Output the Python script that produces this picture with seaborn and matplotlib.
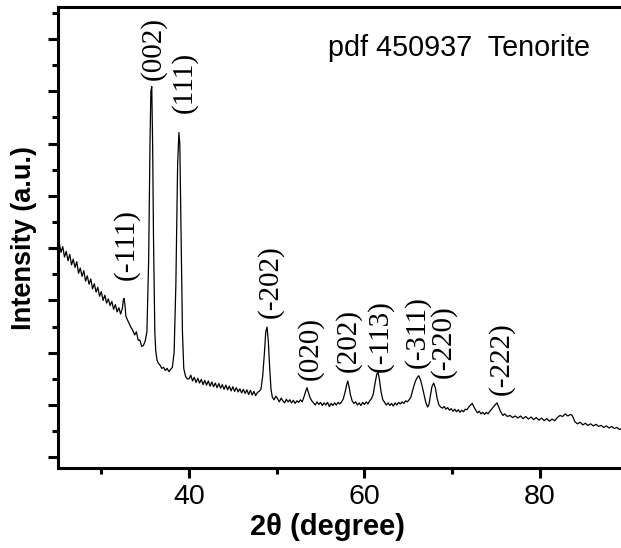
import numpy as np
import pandas as pd
import matplotlib
matplotlib.use('Agg')
import matplotlib.pyplot as plt
import seaborn as sns
from matplotlib.ticker import MultipleLocator

# XRD pattern (2theta in degrees, intensity in arbitrary units)
two_theta = [
    25.0, 25.2, 25.4, 25.6, 25.8, 26.0, 26.2, 26.4, 26.6, 26.8,
    27.0, 27.2, 27.4, 27.6, 27.8, 28.0, 28.2, 28.4, 28.6, 28.8,
    29.0, 29.2, 29.4, 29.6, 29.8, 30.0, 30.2, 30.4, 30.6, 30.8,
    31.0, 31.2, 31.4, 31.6, 31.8, 32.0, 32.2, 32.4, 32.5, 32.6,
    32.7, 32.8, 33.0, 33.2, 33.4, 33.6, 33.8, 34.0, 34.2, 34.4,
    34.6, 34.8, 35.0, 35.2, 35.4, 35.55, 35.65, 35.75, 35.85, 35.95,
    36.1, 36.2, 36.35, 36.5, 36.7, 36.9, 37.1, 37.3, 37.5, 37.7,
    37.9, 38.1, 38.3, 38.5, 38.7, 38.85, 38.95, 39.1, 39.25, 39.4,
    39.6, 39.8, 40.0, 40.2, 40.4, 40.6, 40.8, 41.0, 41.2, 41.4,
    41.6, 41.8, 42.0, 42.2, 42.4, 42.6, 42.8, 43.0, 43.2, 43.4,
    43.6, 43.8, 44.0, 44.2, 44.4, 44.6, 44.8, 45.0, 45.2, 45.4,
    45.6, 45.8, 46.0, 46.2, 46.4, 46.6, 46.8, 47.0, 47.2, 47.4,
    47.6, 47.8, 48.0, 48.2, 48.4, 48.6, 48.75, 48.9, 49.05, 49.2,
    49.35, 49.5, 49.7, 49.9, 50.1, 50.3, 50.5, 50.7, 50.9, 51.1,
    51.3, 51.5, 51.7, 51.9, 52.1, 52.3, 52.5, 52.7, 52.9, 53.1,
    53.3, 53.45, 53.6, 53.8, 54.0, 54.2, 54.4, 54.6, 54.8, 55.0,
    55.2, 55.4, 55.6, 55.8, 56.0, 56.2, 56.4, 56.6, 56.8, 57.0,
    57.2, 57.4, 57.6, 57.8, 58.0, 58.1, 58.25, 58.4, 58.6, 58.8,
    59.0, 59.2, 59.4, 59.6, 59.8, 60.0, 60.2, 60.4, 60.6, 60.8,
    61.0, 61.2, 61.4, 61.55, 61.7, 61.9, 62.1, 62.3, 62.5, 62.7,
    62.9, 63.1, 63.3, 63.5, 63.7, 63.9, 64.1, 64.3, 64.5, 64.7,
    64.9, 65.1, 65.3, 65.5, 65.8, 66.0, 66.2, 66.4, 66.6, 66.8,
    67.0, 67.2, 67.35, 67.5, 67.7, 67.9, 68.1, 68.3, 68.5, 68.7,
    68.9, 69.1, 69.3, 69.5, 69.7, 69.9, 70.1, 70.3, 70.5, 70.7,
    70.9, 71.1, 71.3, 71.5, 71.7, 71.9, 72.1, 72.3, 72.5, 72.7,
    72.9, 73.1, 73.3, 73.5, 73.7, 73.9, 74.1, 74.3, 74.5, 74.8,
    75.1, 75.3, 75.5, 75.8, 76.0, 76.3, 76.6, 76.9, 77.2, 77.5,
    77.8, 78.1, 78.4, 78.7, 79.0, 79.3, 79.6, 79.9, 80.2, 80.5,
    80.8, 81.1, 81.4, 81.7, 82.0, 82.3, 82.6, 82.9, 83.2, 83.5,
    83.7, 84.0, 84.3, 84.6, 84.9, 85.2, 85.5, 85.8, 86.1, 86.4,
    86.7, 87.0, 87.3, 87.6, 87.9, 88.2, 88.5, 88.8, 89.1, 89.4,
]
intensity = [
    400, 410, 392, 403, 383, 394, 376, 388, 368, 379,
    363, 374, 352, 362, 346, 357, 337, 347, 331, 341,
    322, 332, 316, 325, 308, 317, 300, 310, 295, 303,
    290, 298, 283, 292, 278, 286, 274, 285, 300, 304,
    290, 270, 262, 255, 248, 242, 234, 240, 224, 224,
    212, 214, 222, 240, 380, 600, 700, 709, 600, 420,
    240, 205, 186, 180, 176, 170, 172, 166, 170, 164,
    168, 172, 200, 330, 560, 621, 600, 420, 240, 170,
    155, 150, 150, 157, 146, 153, 143, 151, 142, 149,
    139, 147, 138, 146, 136, 144, 135, 142, 133, 141,
    132, 139, 130, 138, 129, 136, 127, 135, 126, 133,
    125, 131, 123, 130, 122, 129, 120, 128, 119, 126,
    118, 124, 126, 130, 155, 200, 240, 249, 220, 170,
    130, 115, 110, 117, 112, 106, 113, 108, 104, 111,
    106, 110, 104, 109, 103, 108, 105, 110, 106, 115,
    126, 133, 125, 114, 108, 104, 100, 106, 101, 105,
    99, 104, 100, 105, 97, 103, 99, 104, 100, 105,
    102, 106, 112, 125, 140, 146, 135, 120, 108, 103,
    106, 100, 104, 99, 105, 101, 106, 102, 108, 112,
    120, 140, 158, 163, 150, 125, 110, 105, 100, 104,
    99, 103, 98, 104, 100, 105, 102, 106, 103, 108,
    106, 110, 115, 128, 145, 152, 156, 148, 135, 120,
    105, 96, 100, 115, 135, 142, 132, 112, 100, 96,
    94, 97, 92, 95, 90, 93, 88, 92, 87, 91,
    86, 90, 87, 92, 91, 96, 100, 103, 96, 90,
    85, 88, 83, 86, 82, 86, 83, 88, 92, 98,
    104, 97, 88, 80, 83, 78, 80, 76, 79, 75,
    79, 74, 78, 73, 77, 72, 76, 71, 75, 70,
    74, 69, 73, 70, 76, 80, 78, 83, 79, 82,
    80, 68, 64, 67, 62, 65, 61, 64, 60, 63,
    59, 61, 57, 60, 56, 59, 55, 57, 53, 56,
]
assert len(two_theta) == len(intensity)

# Miller indices and where their labels sit (2theta, intensity at label bottom)
peak_labels = ['(-111)', '(002)', '(111)', '(-202)', '(020)', '(202)',
               '(-113)', '(-311)', '(-220)', '(-222)']
label_theta = [32.87, 35.95, 39.43, 49.24, 53.8, 58.13, 61.78, 66.0, 69.05, 75.58]
label_int = [340, 722, 659, 266, 148, 164, 164, 171, 152, 119]

df = pd.DataFrame({'two_theta': two_theta, 'intensity': intensity})

sns.set_style('ticks')
plt.rcParams['font.family'] = ['Liberation Sans', 'DejaVu Sans']
plt.rcParams['text.color'] = 'black'
plt.rcParams['axes.labelcolor'] = 'black'
plt.rcParams['axes.edgecolor'] = 'black'
plt.rcParams['xtick.color'] = 'black'
plt.rcParams['ytick.color'] = 'black'

fig = plt.figure(figsize=(6.21, 5.48), dpi=100)
ax = fig.add_axes([0.0934, 0.146, 0.9066, 0.841])

sns.lineplot(data=df, x='two_theta', y='intensity', ax=ax, color='black',
             linewidth=0.9, sort=False, estimator=None)

for lab, tx, ty in zip(peak_labels, label_theta, label_int):
    ax.text(tx, ty, lab, rotation=90, ha='center', va='bottom',
            fontsize=21, family=['Liberation Serif', 'DejaVu Serif'])

ax.text(0.48, 0.893, 'pdf 450937  Tenorite', transform=ax.transAxes,
        fontsize=20.7, ha='left', va='baseline')

ax.set_xlim(25.06, 89.26)
ax.set_ylim(-20.5, 861)
ax.xaxis.set_major_locator(MultipleLocator(20))
ax.xaxis.set_minor_locator(MultipleLocator(10))
ax.yaxis.set_major_locator(MultipleLocator(100))
ax.yaxis.set_minor_locator(MultipleLocator(50))
ax.set_yticklabels([])

ax.tick_params(which='major', direction='out', length=7.5, width=2.2, labelsize=20.5)
ax.tick_params(which='minor', direction='out', length=4, width=2.2)
ax.tick_params(axis='x', pad=4)

for side in ['left', 'bottom', 'top']:
    ax.spines[side].set_linewidth(2.2)
ax.spines['right'].set_visible(False)

ax.set_xlabel('2θ (degree)', fontsize=21, fontweight='bold')
ax.xaxis.set_label_coords(0.478, -0.098)
ax.set_ylabel('Intensity (a.u.)', fontsize=19.5, fontweight='bold', labelpad=4)

fig.savefig('out.png', dpi=100)
